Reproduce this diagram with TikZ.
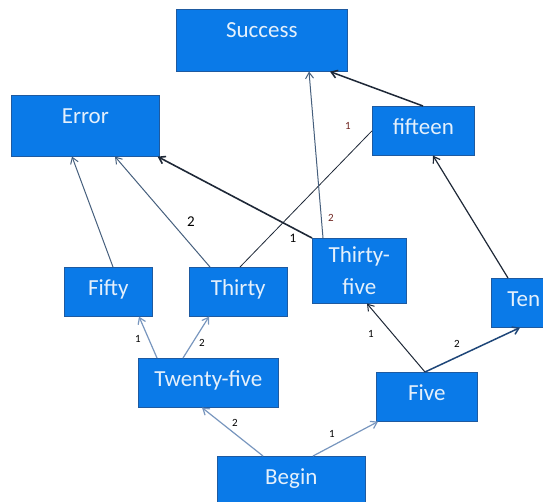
\documentclass[tikz,border=0pt]{standalone}
\usepackage{fontspec}
\setmainfont{Carlito}
\usetikzlibrary{arrows.meta}
\usepackage{xcolor}
\definecolor{boxblue}{RGB}{10,122,232}
\definecolor{boxedge}{RGB}{30,90,160}
\definecolor{boxtext}{RGB}{228,240,252}
\definecolor{steelline}{RGB}{120,150,190}
\definecolor{slateline}{RGB}{70,95,125}
\definecolor{darkline}{RGB}{30,40,55}
\definecolor{navyline}{RGB}{30,70,120}
\definecolor{labelred}{RGB}{110,35,30}

\begin{document}
\begin{tikzpicture}[
        x=1pt, y=-1pt,
        statebox/.style={rectangle, fill=boxblue, draw=boxedge, line width=0.6pt, inner sep=0pt, anchor=north west, text=boxtext, font=\fontsize{23}{28}\selectfont},
        topbox/.style={statebox, text height=28pt},
        lightarrow/.style={-{Straight Barb[length=6pt, width=8pt]}, steelline, line width=1.2pt},
        darkarrow/.style={-{Straight Barb[length=6pt, width=8pt]}, darkline, line width=1pt},
        edgelabel/.style={inner sep=0pt, font=\fontsize{11}{12}\selectfont}
    ]
        \useasboundingbox (0,0) rectangle (543,501);
        % Boxes
        \node[topbox, minimum width=171pt, text depth=34pt] (success) at (176,9) {Success};
        \node[topbox, minimum width=148pt, text depth=33pt] (error) at (11,95) {Error};
        \node[topbox, minimum width=102pt, text depth=21pt] (fifteen) at (372,106) {fifteen};
        \node[topbox, minimum width=88pt, text depth=21pt] (fifty) at (64,267) {Fifty};
        \node[topbox, minimum width=98pt, text depth=21pt] (thirty) at (189,267) {Thirty};
        \node[statebox, minimum width=94pt, minimum height=65pt, align=center, font=\fontsize{23}{32}\selectfont] (thirtyfive) at (312,238) {Thirty-\\five};
        \node[topbox, minimum width=65pt, text depth=21pt] (ten) at (491,278) {Ten};
        \node[topbox, minimum width=101pt, text depth=21pt] (five) at (376,372) {Five};
        \node[topbox, minimum width=140pt, text depth=21pt] (twentyfive) at (138,358) {Twenty-five};
        \node[topbox, minimum width=148pt, text depth=21pt] (begin) at (217,456) {Begin};
        % Lower arrows
        \draw[lightarrow] ([xshift=46pt]begin.north west) -- ([xshift=64pt]twentyfive.south west);
        \draw[lightarrow] ([xshift=96pt]begin.north west) -- ([xshift=2pt]five.south west);
        \draw[lightarrow] ([xshift=19pt]twentyfive.north west) -- ([xshift=75pt]fifty.south west);
        \draw[lightarrow] ([xshift=45pt]twentyfive.north west) -- ([xshift=20pt]thirty.south west);
        \draw[darkarrow] ([xshift=49pt]five.north west) -- ([xshift=55pt]thirtyfive.south west);
        \draw[darkarrow, navyline, line width=1.5pt] ([xshift=49pt]five.north west) -- ([xshift=29pt]ten.south west);
        % Upper arrows
        \draw[darkarrow, slateline] ([xshift=49pt]fifty.north west) -- ([xshift=61pt]error.south west);
        \draw[darkarrow, slateline] ([xshift=21pt]thirty.north west) -- ([xshift=104pt]error.south west);
        \draw[darkarrow, line width=1.6pt] (thirtyfive.north west) -- ([xshift=-2pt]error.south east);
        \draw[darkline, line width=0.8pt] ([xshift=51pt]thirty.north west) -- (fifteen.west);
        \draw[darkarrow, slateline] ([xshift=11pt]thirtyfive.north west) -- ([xshift=133pt]success.south west);
        \draw[darkarrow, line width=1.5pt] ([xshift=51pt]fifteen.north west) -- ([xshift=154pt]success.south west);
        \draw[darkarrow, line width=1.2pt] ([xshift=17pt]ten.north west) -- ([xshift=61pt]fifteen.south west);
        % Labels
        \foreach \n/\x/\y/\ltext in {
            a/235/423/2,
            b/332/434/1,
            c/138/339/1,
            d/202/343/2,
            e/371/334/1,
            f/457/344/2} {
            \node[edgelabel] (lbl-\n) at (\x,\y) {\ltext};
        }
        \node[edgelabel, labelred] (lbl-g) at (348,126) {1};
        \node[edgelabel, labelred] (lbl-h) at (331,218) {2};
        \node[edgelabel, font=\fontsize{13}{14}\selectfont] (lbl-i) at (293,238) {1};
        \node[edgelabel, font=\fontsize{15}{16}\selectfont] (lbl-j) at (191,222) {2};
    \end{tikzpicture}
\end{document}
